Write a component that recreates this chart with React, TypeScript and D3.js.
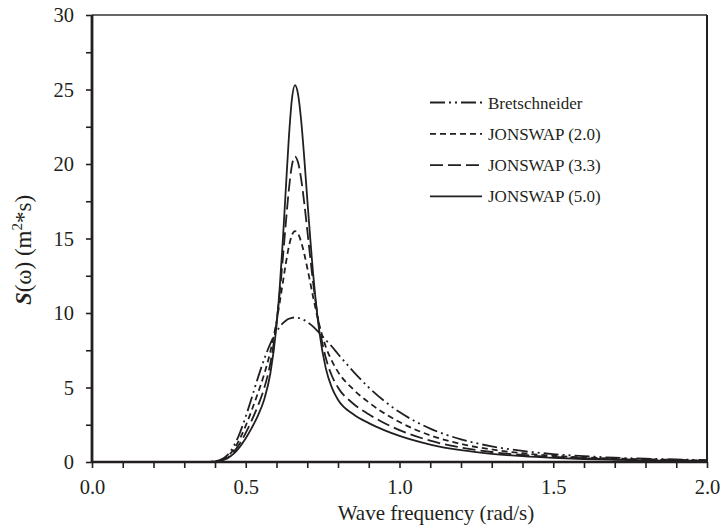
import React, { useEffect, useRef } from 'react'
import * as d3 from 'd3'

// wave frequency (rad/s)
const omega = [0, 0.2, 0.3, 0.38, 0.40, 0.44, 0.46, 0.48, 0.50, 0.52, 0.54, 0.56, 0.58, 0.60, 0.61, 0.62, 0.63, 0.64, 0.65, 0.66, 0.67, 0.68, 0.69, 0.70, 0.72, 0.74, 0.76, 0.78, 0.80, 0.85, 0.90, 0.95, 1.0, 1.1, 1.2, 1.3, 1.4, 1.5, 1.6, 1.7, 1.8, 1.9, 2.0]

// spectral density S(w)
const bretschneider = [0, 0, 0, 0.01, 0.04, 0.46, 1.03, 1.91, 3.05, 4.35, 5.68, 6.90, 7.94, 8.75, 9.05, 9.30, 9.48, 9.61, 9.68, 9.70, 9.68, 9.62, 9.52, 9.39, 9.07, 8.65, 8.20, 7.75, 7.25, 6.07, 5.00, 4.10, 3.35, 2.24, 1.52, 1.05, 0.74, 0.53, 0.39, 0.29, 0.22, 0.17, 0.13]
const jonswap20 = [0, 0, 0, 0.01, 0.03, 0.37, 0.82, 1.53, 2.44, 3.50, 4.65, 5.89, 7.41, 9.42, 10.64, 11.96, 13.28, 14.43, 15.22, 15.5, 15.32, 14.79, 14.0, 13.04, 10.99, 9.14, 7.75, 6.78, 6.05, 4.87, 4.0, 3.28, 2.68, 1.79, 1.21, 0.84, 0.59, 0.42, 0.31, 0.23, 0.18, 0.14, 0.10]
const jonswap33 = [0, 0, 0, 0.01, 0.03, 0.29, 0.66, 1.22, 1.96, 2.82, 3.79, 4.95, 6.63, 9.36, 11.26, 13.52, 15.96, 18.24, 19.89, 20.5, 20.11, 19.02, 17.43, 15.57, 11.89, 8.97, 7.01, 5.79, 5.0, 3.91, 3.2, 2.62, 2.14, 1.43, 0.97, 0.67, 0.47, 0.34, 0.25, 0.19, 0.14, 0.11, 0.08]
const jonswap50 = [0, 0, 0, 0.0, 0.02, 0.24, 0.54, 1.00, 1.60, 2.31, 3.13, 4.20, 5.94, 9.13, 11.57, 14.67, 18.22, 21.71, 24.33, 25.3, 24.69, 22.97, 20.48, 17.67, 12.44, 8.65, 6.32, 4.99, 4.18, 3.20, 2.61, 2.14, 1.75, 1.17, 0.79, 0.55, 0.39, 0.28, 0.20, 0.15, 0.11, 0.09, 0.07]

const seriesNames = ['Bretschneider', 'JONSWAP (2.0)', 'JONSWAP (3.3)', 'JONSWAP (5.0)']
const seriesValues = [bretschneider, jonswap20, jonswap33, jonswap50]
const dashes = ['15,4,2,4,2,4', '6,4', '13,5', null]

const xMajor = [0, 0.5, 1.0, 1.5, 2.0]

const ink = '#231f20'
const font = '"Liberation Serif", "Times New Roman", serif'

function App() {
    const ref = useRef<SVGSVGElement>(null)

    useEffect(() => {
        const width = 724
        const height = 529
        const margin = { top: 15, right: 17, bottom: 67, left: 92 }

        const svg = d3.select(ref.current)
        svg.selectAll('*').remove()

        const x = d3.scaleLinear().domain([0, 2]).range([margin.left, width - margin.right])
        const y = d3.scaleLinear().domain([0, 30]).range([height - margin.bottom, margin.top])

        // frame: top thin, right medium
        svg.append('line')
            .attr('x1', x(0)).attr('x2', x(2))
            .attr('y1', y(30)).attr('y2', y(30))
            .attr('stroke', '#333').attr('stroke-width', 1.3)
        svg.append('line')
            .attr('x1', x(2)).attr('x2', x(2))
            .attr('y1', y(30)).attr('y2', y(0))
            .attr('stroke', ink).attr('stroke-width', 2)

        // curves
        const line = d3.line<number>()
            .x((d, i) => x(omega[i]))
            .y(d => y(d))
            .curve(d3.curveMonotoneX)

        seriesValues.forEach((vals, k) => {
            svg.append('path')
                .attr('d', line(vals))
                .attr('fill', 'none')
                .attr('stroke', ink)
                .attr('stroke-width', 1.8)
                .attr('stroke-dasharray', dashes[k])
        })

        // x axis, ticks every 0.1, labels every 0.5
        const xAxis = d3.axisBottom(x)
            .tickValues(d3.range(0, 21).map(i => i / 10))
            .tickSize(6)
            .tickFormat(d => (xMajor.some(v => Math.abs(v - (d as number)) < 1e-6) ? d3.format('.1f')(d as number) : ''))
        const gx = svg.append('g')
            .attr('transform', `translate(0,${y(0)})`)
            .call(xAxis)
        gx.select('.domain').attr('d', `M${x(0)},0H${x(2)}`).attr('stroke', ink).attr('stroke-width', 2.6)
        gx.selectAll('.tick line').attr('stroke', ink).attr('stroke-width', 1.6)
        gx.selectAll('.tick text')
            .attr('fill', ink)
            .attr('dy', 0)
            .attr('y', 32)
            .style('font-family', font)
            .style('font-size', '20.5px')

        // y axis, ticks every 2.5, labels every 5
        const yAxis = d3.axisLeft(y)
            .tickValues(d3.range(0, 13).map(i => i * 2.5))
            .tickSize(6)
            .tickPadding(12)
            .tickFormat(d => ((d as number) % 5 === 0 ? String(d) : ''))
        const gy = svg.append('g')
            .attr('transform', `translate(${x(0)},0)`)
            .call(yAxis)
        gy.select('.domain').attr('d', `M0,${y(0)}V${y(30)}`).attr('stroke', ink).attr('stroke-width', 2.8)
        gy.selectAll('.tick line').attr('stroke', ink).attr('stroke-width', 1.6)
        gy.selectAll('.tick text')
            .attr('fill', ink)
            .style('font-family', font)
            .style('font-size', '20.5px')

        // axis titles
        svg.append('text')
            .attr('x', 436)
            .attr('y', 520)
            .attr('text-anchor', 'middle')
            .attr('fill', ink)
            .style('font-family', font)
            .style('font-size', '21px')
            .text('Wave frequency (rad/s)')

        const yt = svg.append('text')
            .attr('transform', `translate(31,250) rotate(-90)`)
            .attr('text-anchor', 'middle')
            .attr('fill', ink)
            .style('font-family', font)
            .style('font-size', '23px')
        yt.append('tspan').attr('font-weight', 'bold').attr('font-style', 'italic').text('S')
        yt.append('tspan').text('(ω) (m')
        yt.append('tspan').attr('font-size', '15px').attr('dy', -9).text('2')
        yt.append('tspan').attr('dy', 9).text('*s)')

        // legend
        const lg = svg.append('g')
        seriesNames.forEach((name, k) => {
            const ly = 102.5 + k * 31.3
            lg.append('line')
                .attr('x1', 430).attr('x2', 482)
                .attr('y1', ly).attr('y2', ly)
                .attr('stroke', ink)
                .attr('stroke-width', 1.8)
                .attr('stroke-dasharray', dashes[k])
            lg.append('text')
                .attr('x', 488)
                .attr('y', ly + 6)
                .attr('fill', ink)
                .style('font-family', font)
                .style('font-size', '17px')
                .text(name)
        })
    }, [])

    return (
        <svg ref={ref} width={724} height={529} style={{ position: 'absolute', left: 0, top: 0, background: '#fff' }} />
    )
}

export default App
